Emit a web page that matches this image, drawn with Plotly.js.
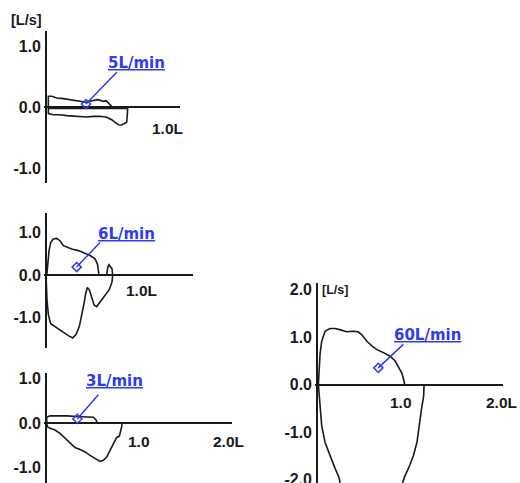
<!DOCTYPE html>
<html>
<head>
<meta charset="utf-8">
<script src="https://cdn.plot.ly/plotly-3.0.1.min.js"></script>
<style>html,body{margin:0;padding:0;background:#fff;}#chart{width:520px;height:483px;}</style>
</head>
<body>
<div id="chart"></div>
<script>
// ---------- DATA ----------
const rates = ['5L/min', '6L/min', '3L/min', '60L/min'];

// Panel 1 (5 L/min)
const p1UpperV = [0.022, 0.022, 0.05, 0.092, 0.133, 0.175, 0.217, 0.258, 0.30, 0.336, 0.369, 0.403, 0.431, 0.453, 0.481, 0.503, 0.522, 0.542, 0.55];
const p1UpperF = [0, 0.175, 0.175, 0.148, 0.142, 0.131, 0.12, 0.109, 0.093, 0.077, 0.093, 0.104, 0.12, 0.109, 0.093, 0.104, 0.066, 0.038, 0.011];
const p1LowerV = [0.022, 0.022, 0.064, 0.119, 0.175, 0.231, 0.286, 0.342, 0.397, 0.453, 0.508, 0.55, 0.578, 0.606, 0.633, 0.661, 0.675, 0.681, 0.683, 0.689, 0.40, 0.022];
const p1LowerF = [0, -0.109, -0.126, -0.126, -0.142, -0.153, -0.153, -0.164, -0.153, -0.153, -0.169, -0.208, -0.251, -0.29, -0.295, -0.273, -0.251, -0.098, -0.016, -0.02, -0.025, -0.02];

// Panel 2 (6 L/min)
const p2UpperV = [0.011, 0.022, 0.036, 0.054, 0.082, 0.118, 0.154, 0.19, 0.226, 0.28, 0.351, 0.423, 0.477, 0.53, 0.556, 0.566, 0.573, 0.656, 0.667, 0.681, 0.695, 0.713, 0.72];
const p2UpperF = [0, 0.271, 0.581, 0.775, 0.853, 0.868, 0.814, 0.698, 0.659, 0.62, 0.581, 0.519, 0.465, 0.388, 0.271, 0.116, 0, 0, 0.194, 0.248, 0.194, 0.155, 0];
const p2LowerV = [0.72, 0.713, 0.685, 0.638, 0.584, 0.548, 0.52, 0.495, 0.47, 0.448, 0.43, 0.412, 0.391, 0.362, 0.326, 0.29, 0.244, 0.19, 0.118, 0.054, 0.029, 0.014, 0.007, 0.004];
const p2LowerF = [0, -0.155, -0.333, -0.465, -0.62, -0.736, -0.698, -0.543, -0.349, -0.287, -0.426, -0.659, -0.93, -1.202, -1.395, -1.473, -1.419, -1.341, -1.24, -1.14, -0.93, -0.581, -0.194, 0];

// Panel 3 (3 L/min)
const p3UpperV = [0.011, 0.011, 0.047, 0.136, 0.226, 0.333, 0.441, 0.513, 0.541, 0.556];
const p3UpperF = [0, 0.136, 0.167, 0.174, 0.167, 0.152, 0.152, 0.136, 0.076, 0];
const p3LowerV = [0.011, 0.018, 0.047, 0.1, 0.154, 0.208, 0.262, 0.315, 0.369, 0.423, 0.477, 0.53, 0.584, 0.62, 0.656, 0.692, 0.728, 0.763, 0.792, 0.806, 0.817, 0.821];
const p3LowerF = [0, -0.076, -0.114, -0.152, -0.227, -0.341, -0.455, -0.545, -0.591, -0.644, -0.72, -0.795, -0.856, -0.833, -0.758, -0.606, -0.455, -0.318, -0.288, -0.189, -0.076, 0];

// Panel 4 (60 L/min)
const p4UpperV = [0.019, 0.03, 0.038, 0.057, 0.095, 0.15, 0.21, 0.27, 0.34, 0.42, 0.47, 0.51, 0.57, 0.63, 0.68, 0.76, 0.83, 0.89, 0.93, 0.97, 0.99, 1.0];
const p4UpperF = [0, 0.30, 0.64, 0.91, 1.12, 1.18, 1.18, 1.15, 1.11, 1.12, 1.11, 1.05, 0.91, 0.81, 0.74, 0.67, 0.60, 0.50, 0.36, 0.23, 0.09, 0];
const p4LeftV = [0.019, 0.03, 0.038, 0.057, 0.095, 0.15, 0.21, 0.25, 0.27];
const p4LeftF = [0, -0.25, -0.53, -0.87, -1.22, -1.5, -1.77, -1.94, -2.1];
const p4RightV = [1.22, 1.215, 1.19, 1.17, 1.14, 1.10, 1.06, 1.0, 0.97];
const p4RightF = [0, -0.25, -0.53, -0.80, -1.21, -1.49, -1.69, -1.94, -2.1];

// Leader markers / labels
const markerV = [0.336, 0.333, 0.34, 0.70];
const markerF = [0.049, 0.193, 0.098, 0.35];
const leaderV = [0.594, 0.584, 0.566, 0.984];
const leaderF = [0.574, 0.774, 0.643, 0.845];
const labelV = [0.753, 0.874, 0.745, 1.257];
const labelF = [0.72, 0.965, 0.94, 1.037];

// Tick labels
const yTickVals = [[1, 0, -1], [1, 0, -1], [1, 0, -1], [2, 1, 0, -1, -2]];
const yTickText = [['1.0', '0.0', '-1.0'], ['1.0', '0.0', '-1.0'], ['1.0', '0.0', '-1.0'], ['2.0', '1.0', '0.0', '-1.0', '-2.0']];
const xTickVals = [[1.0], [1.0], [1.0, 2.0], [1.0, 2.0]];
const xTickText = [['1.0L'], ['1.0L'], ['1.0', '2.0L'], ['1.0', '2.0L']];
const unitText = '[L/s]';

// ---------- LAYOUT HELPERS ----------
const W = 520, H = 483;
const panels = [
  {xd: [44, 180], yd: [31, 183], x0: 45.7, xs: 120, y0: 107, ys: 61, xsh: [[2, -21]]},
  {xd: [44, 193], yd: [213, 348], x0: 45.7, xs: 93, y0: 275.3, ys: 42.5, xsh: [[3, -15]]},
  {xd: [44, 231.7], yd: [373, 483], x0: 45.7, xs: 93, y0: 423.3, ys: 44.5, xsh: [[0, -18], [-3, -18]]},
  {xd: [315, 503], yd: [283, 483], x0: 316.7, xs: 88, y0: 384.5, ys: 47.5, xsh: [[-4, -18], [9, -18]]}
];
const INK = '#1a1a1a', BLUE = '#2c3cf2';
const FONT = 'Liberation Sans';
const LFONT = 'DejaVu Sans';

const layout = {
  width: W, height: H,
  margin: {l: 0, r: 0, t: 0, b: 0},
  paper_bgcolor: '#fff', plot_bgcolor: 'rgba(0,0,0,0)',
  showlegend: false,
  annotations: []
};

panels.forEach((p, i) => {
  const n = i === 0 ? '' : String(i + 1);
  const xr = [(p.xd[0] - p.x0) / p.xs, (p.xd[1] - p.x0) / p.xs];
  const yr = [(p.y0 - p.yd[1]) / p.ys, (p.y0 - p.yd[0]) / p.ys];
  layout['xaxis' + n] = {
    domain: [p.xd[0] / W, p.xd[1] / W], range: xr, anchor: 'y' + n,
    showgrid: false, showline: false, showticklabels: false, ticks: '',
    zeroline: true, zerolinecolor: INK, zerolinewidth: 2, fixedrange: true
  };
  layout['yaxis' + n] = {
    domain: [1 - p.yd[1] / H, 1 - p.yd[0] / H], range: yr, anchor: 'x' + n,
    showgrid: false, showline: false, ticks: '',
    tickvals: yTickVals[i], ticktext: yTickText[i],
    ticklabeloverflow: 'allow', ticklabelstandoff: 2,
    tickfont: {family: FONT, size: 16, color: INK, weight: 'bold'},
    zeroline: true, zerolinecolor: INK, zerolinewidth: 2, fixedrange: true
  };
  xTickVals[i].forEach((v, k) => {
    layout.annotations.push({
      xref: 'x' + n, yref: 'y' + n, x: v, y: 0, text: xTickText[i][k],
      showarrow: false, xanchor: 'center', yanchor: 'middle',
      xshift: p.xsh[k][0], yshift: p.xsh[k][1],
      font: {family: FONT, size: 15.5, color: INK, weight: 'bold'}
    });
  });
  layout.annotations.push({
    xref: 'x' + n, yref: 'y' + n, x: labelV[i], y: labelF[i], text: rates[i],
    showarrow: false, xanchor: 'center', yanchor: 'middle',
    font: {family: LFONT, size: 15, color: BLUE, weight: 'bold', lineposition: 'under'}
  });
});

// unit labels
layout.annotations.push({xref: 'paper', yref: 'paper', x: 26 / W, y: 1 - 20 / H, text: unitText,
  showarrow: false, xanchor: 'center', yanchor: 'middle',
  font: {family: FONT, size: 14.5, color: INK, weight: 'bold'}});
layout.annotations.push({xref: 'paper', yref: 'paper', x: 335 / W, y: 1 - 290 / H, text: unitText,
  showarrow: false, xanchor: 'center', yanchor: 'middle',
  font: {family: FONT, size: 12.5, color: INK, weight: 'bold'}});

// ---------- TRACES ----------
const curves = [
  [p1UpperV, p1UpperF, 0], [p1LowerV, p1LowerF, 0],
  [p2UpperV, p2UpperF, 1], [p2LowerV, p2LowerF, 1],
  [p3UpperV, p3UpperF, 2], [p3LowerV, p3LowerF, 2],
  [p4UpperV, p4UpperF, 3], [p4LeftV, p4LeftF, 3], [p4RightV, p4RightF, 3]
];
const traces = [];
curves.forEach(([v, f, i]) => {
  const n = i === 0 ? '' : String(i + 1);
  traces.push({x: v, y: f, xaxis: 'x' + n, yaxis: 'y' + n, type: 'scatter', mode: 'lines',
    line: {color: INK, width: 1.6}, hoverinfo: 'skip'});
});
rates.forEach((r, i) => {
  const n = i === 0 ? '' : String(i + 1);
  traces.push({x: [markerV[i], leaderV[i]], y: [markerF[i], leaderF[i]], xaxis: 'x' + n, yaxis: 'y' + n,
    type: 'scatter', mode: 'lines', line: {color: BLUE, width: 1.5}, hoverinfo: 'skip'});
  traces.push({x: [markerV[i]], y: [markerF[i]], xaxis: 'x' + n, yaxis: 'y' + n,
    type: 'scatter', mode: 'markers',
    marker: {symbol: 'diamond-open', size: 7, color: BLUE, line: {width: 1.5, color: BLUE}}, hoverinfo: 'skip'});
});

Plotly.newPlot('chart', traces, layout, {displayModeBar: false, staticPlot: true});
</script>
</body>
</html>
